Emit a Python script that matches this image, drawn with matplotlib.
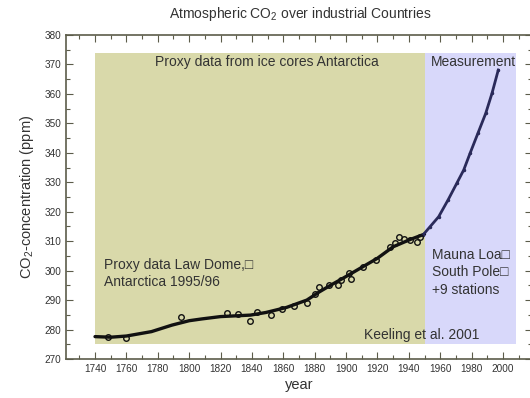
import matplotlib
matplotlib.use("Agg")
import matplotlib.pyplot as plt
from matplotlib.ticker import MultipleLocator

plt.rcParams['font.family'] = ['Liberation Sans', 'DejaVu Sans']
plt.rcParams['mathtext.fontset'] = 'custom'
plt.rcParams['mathtext.rm'] = 'Liberation Sans'
plt.rcParams['mathtext.default'] = 'regular'

# Law Dome ice-core samples (year, ppm)
core_years = [1748, 1760, 1795, 1824, 1831, 1839, 1843, 1852, 1859, 1867, 1875, 1880,
              1883, 1889, 1895, 1897, 1902, 1903, 1911, 1919, 1928, 1931, 1934, 1937,
              1941, 1945, 1947]
core_ppm = [277.3, 277.0, 284.3, 285.5, 285.2, 283.0, 286.0, 285.0, 286.9, 287.9, 289.1, 292.1,
            294.5, 295.1, 295.1, 296.8, 299.1, 297.0, 301.3, 303.6, 308.1, 309.3, 311.5, 310.9,
            310.4, 309.8, 311.5]

# Smoothed ice-core curve
fit_years = [1740, 1750, 1760, 1776, 1789, 1800, 1808, 1820, 1839, 1849, 1862, 1875, 1883,
             1890, 1898, 1909, 1920, 1930, 1941, 1950]
fit_ppm = [277.6, 277.4, 277.8, 279.3, 281.5, 283.0, 283.6, 284.4, 284.9, 285.8, 287.5, 290.0,
           292.8, 295.0, 297.4, 300.8, 304.2, 308.1, 310.6, 312.4]

# Direct atmospheric measurements
meas_years = [1949, 1953.5, 1959, 1965, 1970.5, 1975, 1979, 1984, 1989, 1993, 1997]
meas_ppm = [312.1, 314.9, 318.3, 324.0, 329.6, 334.2, 339.8, 346.6, 353.4, 360.2, 368.1]

text_c = '#333333'
spine_c = '#5c5c4a'

fig = plt.figure(figsize=(5.30, 3.98), dpi=100)
ax = fig.add_axes([66/530, 39/398, 466/530, 324/398])
ax.set_xlim(1721.5, 2018.5)
ax.set_ylim(270, 380)

# Period backgrounds
ax.axvspan(1740, 1950, ymin=(275-270)/110, ymax=(374-270)/110, color='#d9d9aa', lw=0, zorder=0)
ax.axvspan(1950, 2008, ymin=(275-270)/110, ymax=(374-270)/110, color='#d8d8fa', lw=0, zorder=0)

ax.plot(fit_years, fit_ppm, color='#111111', lw=2.4, zorder=3, solid_capstyle='round')
ax.plot(core_years, core_ppm, 'o', mfc='none', mec='#111111', ms=4, mew=1.0, zorder=4)
ax.plot(meas_years, meas_ppm, color='#2a2a5a', lw=2.0, marker='.', ms=3, zorder=3)

fs = 10
ax.text(1849.5, 370.8, 'Proxy data from ice cores Antarctica', ha='center', va='center',
        fontsize=fs, color=text_c)
ax.text(1981, 370.8, 'Measurement', ha='center', va='center', fontsize=fs, color=text_c)
ax.text(1746, 301.9, 'Proxy data Law Dome,\u25a1', ha='left', va='center', fontsize=fs, color=text_c)
ax.text(1746, 296.2, 'Antarctica 1995/96', ha='left', va='center', fontsize=fs, color=text_c)
ax.text(1955, 305.3, 'Mauna Loa\u25a1', ha='left', va='center', fontsize=fs, color=text_c)
ax.text(1955, 299.4, 'South Pole\u25a1', ha='left', va='center', fontsize=fs, color=text_c)
ax.text(1955, 293.4, '+9 stations', ha='left', va='center', fontsize=fs, color=text_c)
ax.text(1911.5, 278.1, 'Keeling et al. 2001', ha='left', va='center', fontsize=fs, color=text_c)

ax.xaxis.set_minor_locator(MultipleLocator(10))
ax.yaxis.set_major_locator(MultipleLocator(10))
ax.yaxis.set_minor_locator(MultipleLocator(5))
ax.set_xticks(range(1740, 2001, 20))
ax.tick_params(which='both', direction='in', top=True, right=True, colors=spine_c,
               labelcolor=text_c, labelsize=7.2, width=0.8)
ax.tick_params(which='major', length=5)
ax.tick_params(which='minor', length=3)
for side in ['left', 'bottom', 'top']:
    ax.spines[side].set_color(spine_c)
    ax.spines[side].set_linewidth(1.2)
ax.spines['right'].set_visible(False)

ax.set_xlabel('year', fontsize=10.5, color=text_c, labelpad=3)
ax.set_ylabel('CO$_2$-concentration (ppm)', fontsize=10.5, color=text_c, labelpad=6)
fig.text(0.567, 0.965, 'Atmospheric CO$_2$ over industrial Countries', ha='center', va='center',
         fontsize=10, color=text_c)

fig.savefig('out.png', dpi=100)
